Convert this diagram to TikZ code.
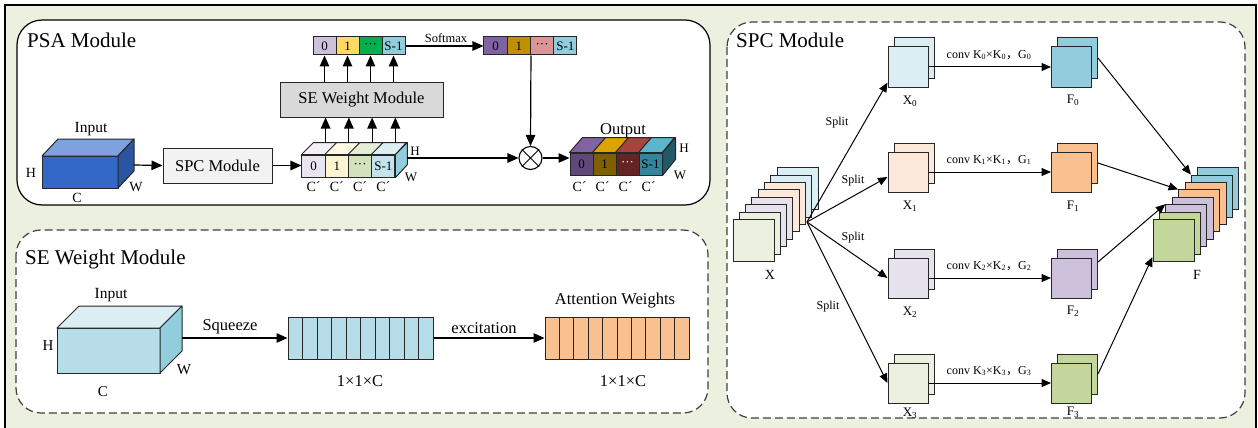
\documentclass[tikz,border=0pt]{standalone}
\usepackage{fontspec}
\setmainfont{Liberation Serif}
\newfontfamily\cjk{Noto Sans CJK SC}
\usetikzlibrary{arrows.meta,calc}
\definecolor{bgg}{HTML}{EBF1DE}
\definecolor{lnc}{HTML}{262626}
\definecolor{dashc}{HTML}{404040}
\definecolor{inF}{HTML}{3468C8}\definecolor{inT}{HTML}{7EA2DE}\definecolor{inR}{HTML}{2B55A3}
\definecolor{kf0}{HTML}{E8E5F0}\definecolor{kt0}{HTML}{F3F1F7}
\definecolor{kf1}{HTML}{FFF4D2}\definecolor{kt1}{HTML}{FFF9E8}
\definecolor{kf2}{HTML}{D3E2BC}\definecolor{kt2}{HTML}{E4EDD6}
\definecolor{kf3}{HTML}{C4E3EC}\definecolor{kt3}{HTML}{DDEFF5}
\definecolor{kR}{HTML}{93CDDD}
\definecolor{wc0}{HTML}{CCC0DA}\definecolor{wc1}{HTML}{FFD966}\definecolor{wc2}{HTML}{00B050}\definecolor{wc3}{HTML}{92CDDC}
\definecolor{vc0}{HTML}{8064A2}\definecolor{vc1}{HTML}{BF9000}\definecolor{vc2}{HTML}{DA9694}\definecolor{vc3}{HTML}{93CDDD}
\definecolor{of0}{HTML}{5F497A}\definecolor{ot0}{HTML}{8064A2}
\definecolor{of1}{HTML}{7F6000}\definecolor{ot1}{HTML}{DBA400}
\definecolor{of2}{HTML}{632523}\definecolor{ot2}{HTML}{A9433D}
\definecolor{of3}{HTML}{31859C}\definecolor{ot3}{HTML}{5BB5CD}
\definecolor{oR}{HTML}{215968}
\definecolor{seF}{HTML}{B7DDE8}\definecolor{seT}{HTML}{DAEEF3}\definecolor{seR}{HTML}{92CDDC}
\definecolor{att}{HTML}{FAC090}
\definecolor{spcg}{HTML}{F2F2F2}\definecolor{seg9}{HTML}{D9D9D9}
\definecolor{xb}{HTML}{DAEEF3}\definecolor{xp}{HTML}{FDE9D9}\definecolor{xl}{HTML}{E6E3EE}\definecolor{xg}{HTML}{EBF1DE}
\definecolor{fb}{HTML}{93CDDD}\definecolor{fp}{HTML}{FAC090}\definecolor{fl}{HTML}{CCC0DA}\definecolor{fg}{HTML}{C3D69B}
\newcommand\fsz[1]{\fontsize{#1}{#1}\selectfont}
\begin{document}
\begin{tikzpicture}[x=1pt,y=-1pt,
  arr/.style={line width=1.2pt,-{Triangle[length=11pt,width=9.5pt]}},
  sarr/.style={line width=1pt,-{Triangle[length=9.5pt,width=8pt]}},
  face/.style={draw=lnc,line width=1pt,line join=round},
  seg/.style={draw=lnc,line width=1pt,inner sep=0pt,minimum width=23.25pt,minimum height=22pt,font=\fsz{13}},
  cell/.style={draw=lnc,line width=1pt,inner sep=0pt,minimum width=23pt,minimum height=18pt,font=\fsz{13}},
  bar/.style={draw=lnc,line width=1pt,inner sep=0pt,minimum width=14.5pt,minimum height=42pt},
  sq/.style={draw=lnc,line width=1pt,inner sep=0pt,minimum width=40pt,minimum height=40pt},
  ssq/.style={draw=lnc,line width=1pt,inner sep=0pt,minimum width=41pt,minimum height=42pt},
  lbl/.style={inner sep=0pt,font=\fsz{16.5}},
  sml/.style={inner sep=0pt,font=\fsz{14}},
  tnl/.style={inner sep=0pt,font=\fsz{12}},
  ttl/.style={inner sep=0pt,anchor=base west,font=\fsz{21}},
  panel/.style={line width=1.2pt,rounded corners=25pt,fill=white},
  dpanel/.style={panel,draw=dashc,dash pattern=on 8pt off 4pt},
]
\useasboundingbox (0,0) rectangle (1258,428);
\fill[white] (0,0) rectangle (1258,428);
\draw[line width=2pt,fill=bgg] (5,5) rectangle (1256,440);

% ================= PSA Module =================
\draw[panel] (17,20) rectangle (710,205);
\node[ttl] (psaT) at (27,48) {PSA Module};

% input cuboid
\filldraw[face,fill=inF] (42,156) rectangle (118,188);
\filldraw[face,fill=inT] (42,156) -- (58,139) -- (134,139) -- (118,156) -- cycle;
\filldraw[face,fill=inR] (118,156) -- (134,139) -- (134,171) -- (118,188) -- cycle;
\node[lbl,font=\fsz{15.5}] (inL) at (91,129) {Input};
\node[sml] (inH) at (31,173) {H};
\node[sml] (inC) at (77,198) {C};
\node[sml] (inW) at (136,187) {W};
\coordinate (inE) at (134,165);

% SPC module box
\node[draw=lnc,line width=1pt,fill=spcg,minimum width=109pt,minimum height=35pt,inner sep=0pt,font=\fsz{16.5}] (spc) at (217.5,165.5) {SPC Module};
\draw[arr] (inE) -- (spc.west);

% chunk cuboid
\foreach \i/\t in {0/0,1/1,2/{···},3/S-1}
  \node[seg,fill=kf\i] (ch\i) at (313.6+23.25*\i,166) {\t};
\foreach \i in {0,...,3}
  \filldraw[face,fill=kt\i] (ch\i.north west) -- ++(12,-12) -- ++(23.25,0) -- (ch\i.north east) -- cycle;
\filldraw[face,fill=kR] (ch3.north east) -- ++(12,-12) -- ++(0,22) -- (ch3.south east) -- cycle;
\foreach \i in {0,...,3}
  \node[sml] (cc\i) at ($(ch\i.south)+(0,9)$) {C´};
\node[sml,font=\fsz{13}] (chH) at (415,151) {H};
\node[sml,font=\fsz{13}] (chW) at (411,177) {W};
\draw[arr] (spc.east) -- (spc.east -| ch0.west);

% SE weight module box
\node[draw=lnc,line width=1pt,fill=seg9,minimum width=163pt,minimum height=35pt,inner sep=0pt,font=\fsz{16.5}] (se) at (361.5,99.5) {SE Weight Module};
\foreach \i in {0,...,3}{
  \coordinate (ct\i) at ($(ch\i.north)+(12,-12)$);
  \draw[arr] (ct\i) -- (ct\i |- se.south);
}

% weight strips
\foreach \i/\t in {0/0,1/1,2/{···},3/S-1}
  \node[cell,fill=wc\i] (w\i) at (324.5+23*\i,46) {\t};
\foreach \i in {0,...,3}
  \draw[arr] (w\i.south |- se.north) -- (w\i.south);
\foreach \i/\t in {0/0,1/1,2/{···},3/S-1}
  \node[cell,minimum width=23.25pt,fill=vc\i] (v\i) at (495.6+23.25*\i,46) {\t};
\draw[arr] (w3.east) -- (v0.west);
\node[tnl,font=\fsz{12.5}] (smx) at (446,38) {Softmax};

% multiply
\node[circle,draw=black,line width=1.1pt,minimum size=23pt,inner sep=0pt] (mul) at (530.5,158) {};
\draw[line width=1pt] (mul.north west) -- (mul.south east) (mul.north east) -- (mul.south west);
\draw[arr] (v1.south east) -- (mul.north);
\coordinate (chE) at (407,158);
\draw[arr] (chE) -- (mul.west);

% output cuboid
\foreach \i/\t/\tc in {0/0/black,1/1/black,2/{···}/white,3/S-1/black}
  \node[seg,minimum width=23pt,fill=of\i,text=\tc] (o\i) at (581.5+23*\i,164) {\t};
\foreach \i in {0,...,3}
  \filldraw[face,fill=ot\i] (o\i.north west) -- ++(13,-15) -- ++(23,0) -- (o\i.north east) -- cycle;
\filldraw[face,fill=oR] (o3.north east) -- ++(13,-15) -- ++(0,22) -- (o3.south east) -- cycle;
\foreach \i in {0,...,3}
  \node[sml] (oc\i) at ($(o\i.south)+(-2,11)$) {C´};
\node[lbl] (outL) at (623,131) {Output};
\node[sml,font=\fsz{13}] (oH) at (684,148) {H};
\node[sml,font=\fsz{13}] (oW) at (680,175) {W};
\draw[arr] (mul.east) -- (mul.east -| o0.west);

% ================= SE Weight Module =================
\draw[dpanel] (16,230) rectangle (708,413);
\node[ttl] (seT) at (25,264) {SE Weight Module};
\filldraw[face,fill=seF] (57,328) rectangle (160,373);
\filldraw[face,fill=seT] (57,328) -- (79,306) -- (182,306) -- (160,328) -- cycle;
\filldraw[face,fill=seR] (160,328) -- (182,306) -- (182,351) -- (160,373) -- cycle;
\node[lbl,font=\fsz{15.5}] (seIn) at (111,295) {Input};
\node[sml,font=\fsz{15}] (seH) at (48,346) {H};
\node[sml,font=\fsz{15}] (seC) at (103,392) {C};
\node[sml,font=\fsz{15}] (seW) at (184,370) {W};
\coordinate (seE) at (182,338);
\foreach \i in {0,...,9}
  \node[bar,fill=seF] (s\i) at (295.25+14.5*\i,338) {};
\foreach \i in {0,...,9}
  \node[bar,minimum width=14.4pt,fill=att] (a\i) at (552.2+14.4*\i,338) {};
\draw[arr] (seE) -- (s0.west);
\node[lbl] (sqz) at (230,327) {Squeeze};
\draw[arr] (s9.east) -- (a0.west);
\node[lbl] (exc) at (484,328) {excitation};
\node[lbl] (d1) at (360,381) {1×1×C};
\node[lbl] (d2) at (623,381) {1×1×C};
\node[lbl] (attL) at (615,301) {Attention Weights};

% ================= SPC Module =================
\draw[dpanel] (727,22) rectangle (1245,418);
\node[ttl] (spcT) at (736,48) {SPC Module};

% X stack
\foreach \i/\c in {7/xb,6/xb,5/xp,4/xp,3/xl,2/xl,1/xg,0/xg}
  \node[ssq,fill=\c] (xs\i) at (753.5+6.3*\i,240.5-7.4*\i) {};
\node[sml] (xL) at (770,275) {X};
\coordinate (sp) at (807,222);

% X pairs and F pairs
\foreach \i/\y/\c/\f in {0/67/xb/fb,1/172/xp/fp,2/278/xl/fl,3/383/xg/fg}{
  \node[sq,fill=\c] (xb\i) at (914,\y-9) {};
  \node[sq,fill=\c] (x\i) at (908,\y) {};
  \node[sq,fill=\f] (fb\i) at (1077.5,\y-9) {};
  \node[sq,fill=\f] (f\i) at (1071.5,\y) {};
  \draw[sarr] (x\i.east) -- (x\i.east -| f\i.west);
  \node[tnl] (cv\i) at (989,\y-12) {conv K\textsubscript{\i}×K\textsubscript{\i}{\cjk ，}G\textsubscript{\i}};
}
\node[tnl,font=\fsz{13}] (xl0) at (910,101) {X\textsubscript{0}};
\node[tnl,font=\fsz{13}] (xl1) at (910,206) {X\textsubscript{1}};
\node[tnl,font=\fsz{13}] (xl2) at (910,312) {X\textsubscript{2}};
\node[tnl,font=\fsz{13}] (xl3) at (910,413) {X\textsubscript{3}};
\node[tnl,font=\fsz{13}] (fl0) at (1073,100) {F\textsubscript{0}};
\node[tnl,font=\fsz{13}] (fl1) at (1073,206) {F\textsubscript{1}};
\node[tnl,font=\fsz{13}] (fl2) at (1073,311) {F\textsubscript{2}};
\node[tnl,font=\fsz{13}] (fl3) at (1073,412) {F\textsubscript{3}};

% split arrows
\draw[sarr] (sp) -- ([yshift=5pt]x0.south west);
\draw[sarr] (sp) -- ([yshift=-5pt]x1.west);
\draw[sarr] (sp) -- (x2.west);
\draw[sarr] (sp) -- (x3.west);
\node[tnl] (sl0) at (837,123) {Split};
\node[tnl] (sl1) at (853,181) {Split};
\node[tnl] (sl2) at (853,238) {Split};
\node[tnl] (sl3) at (828,307) {Split};

% F stack
\foreach \i/\c in {7/fb,6/fb,5/fp,4/fp,3/fl,2/fl,1/fg,0/fg}
  \node[ssq,fill=\c] (fs\i) at (1173.5+6.4*\i,240.5-7.4*\i) {};
\node[sml] (fL) at (1197,275) {F};
\draw[sarr] (fb0.east) -- (fs6.north west);
\draw[sarr] (fb1.east) -- (fs4.north west);
\draw[sarr] ([yshift=7pt]fb2.east) -- (fs2.north west);
\draw[sarr] (fb3.east) -- ([yshift=5pt]fs0.south west);
\end{tikzpicture}
\end{document}
